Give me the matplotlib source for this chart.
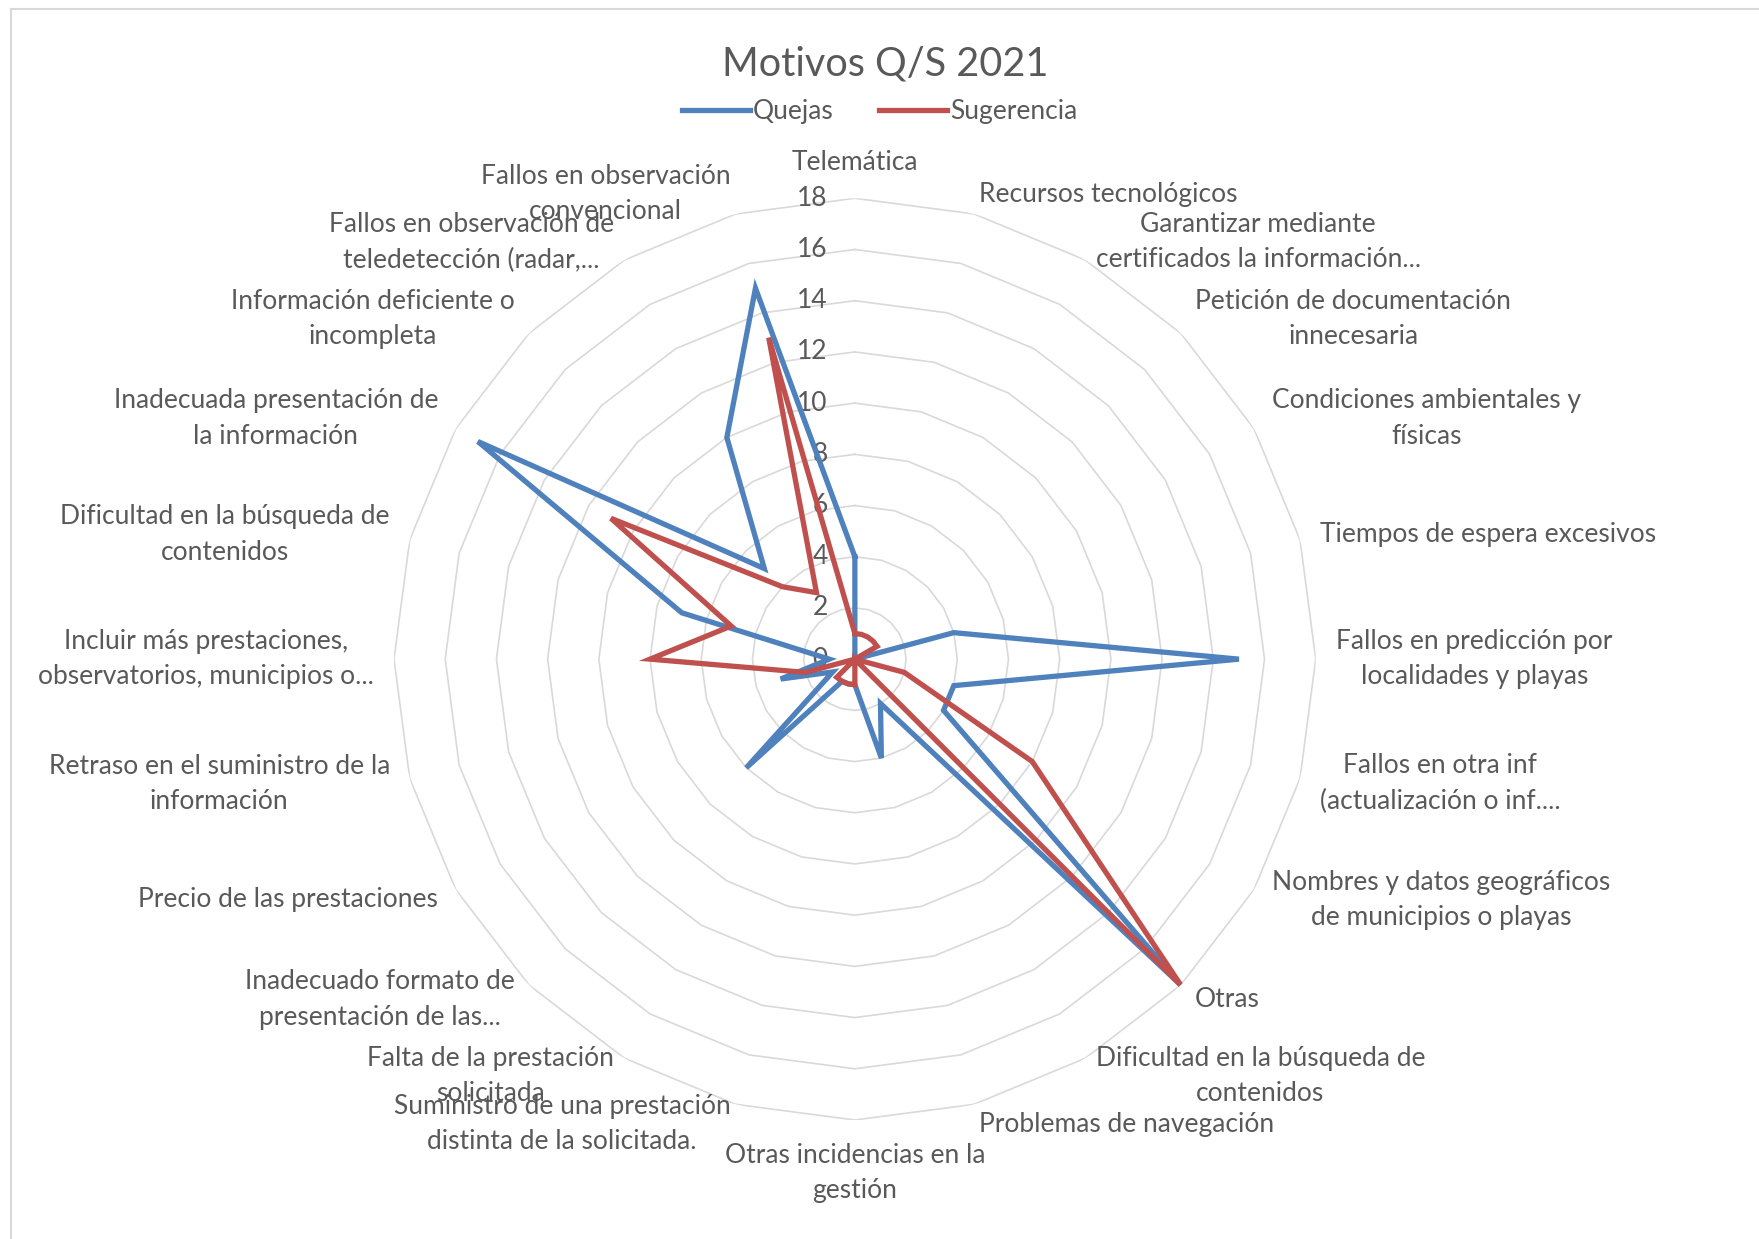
import numpy as np
import matplotlib.pyplot as plt

plt.rcParams['font.family'] = ['Lato', 'DejaVu Sans']

# categorías (en el sentido de las agujas del reloj, empezando arriba)
categorias = [
    "Telemática",
    "Recursos tecnológicos",
    "Garantizar mediante\ncertificados la información...",
    "Petición de documentación\ninnecesaria",
    "Condiciones ambientales y\nfísicas",
    "Tiempos de espera excesivos",
    "Fallos en predicción por\nlocalidades y playas",
    "Fallos en otra inf\n(actualización o inf....",
    "Nombres y datos geográficos\nde municipios o playas",
    "Otras",
    "Dificultad en la búsqueda de\ncontenidos",
    "Problemas de navegación",
    "Otras incidencias en la\ngestión",
    "Suministro de una prestación\ndistinta de la solicitada.",
    "Falta de la prestación\nsolicitada",
    "Inadecuado formato de\npresentación de las...",
    "Precio de las prestaciones",
    "Retraso en el suministro de la\ninformación",
    "Incluir más prestaciones,\nobservatorios, municipios o...",
    "Dificultad en la búsqueda de\ncontenidos",
    "Inadecuada presentación de\nla información",
    "Información deficiente o\nincompleta",
    "Fallos en observación de\nteledetección (radar,...",
    "Fallos en observación\nconvencional",
]

quejas = [4, 0, 0, 0, 0, 4, 15, 4, 4, 18, 2, 4, 1, 1, 1, 6, 1, 3, 1, 7, 17, 5, 10, 15]
sugerencia = [1, 1, 1, 1, 1, 0, 0, 2, 8, 18, 0, 0, 1, 1, 1, 1, 0, 2, 8, 5, 11, 4, 3, 13]

ticks = [0, 2, 4, 6, 8, 10, 12, 14, 16, 18]

gris = '#595959'
azul = '#4F81BD'
rojo = '#C0504D'
fs = 19

n = len(categorias)
ang = np.linspace(0, 2*np.pi, n, endpoint=False)
ang_c = np.append(ang, ang[0])

fig = plt.figure(figsize=(17.59, 12.39), dpi=100)
ax = fig.add_axes([0.224, 0.096, 0.524, 0.744], projection='polar')
ax.set_theta_zero_location('N')
ax.set_theta_direction(-1)
ax.set_ylim(0, 18)
ax.grid(False)
ax.spines['polar'].set_visible(False)
ax.set_xticks([])
ax.set_yticks([])
ax.patch.set_alpha(0)

# rejilla poligonal
for r in ticks[1:]:
    ax.plot(ang_c, [r]*(n+1), color='#d9d9d9', lw=1.2, zorder=1)

# etiquetas del eje radial
for t in ticks:
    ax.annotate(str(t), xy=(0, t), xytext=(-27, 0), textcoords='offset pixels',
                ha='right', va='center', fontsize=fs, color=gris, zorder=2)

# series
ax.plot(ang_c, quejas + quejas[:1], color=azul, lw=3.8, label='Quejas', zorder=3,
        solid_joinstyle='miter')
ax.plot(ang_c, sugerencia + sugerencia[:1], color=rojo, lw=3.8, label='Sugerencia', zorder=4,
        solid_joinstyle='miter')

# etiquetas de categorías
for a, c in zip(ang, categorias):
    grados = np.degrees(a)
    if np.isclose(grados, 0):
        ha, va, r = 'center', 'bottom', 18.9
    elif np.isclose(grados, 180):
        ha, va, r = 'center', 'top', 18.9
    elif grados < 180:
        ha, va, r = 'left', 'center', 18.8
    else:
        ha, va, r = 'right', 'center', 18.8
    ax.text(a, r, c, ha=ha, va=va, fontsize=fs, color=gris,
            multialignment='center', linespacing=1.52)

fig.text(0.503, 0.948, 'Motivos Q/S 2021', ha='center', va='center', fontsize=28.5, color=gris)
fig.legend(loc='center', bbox_to_anchor=(0.50, 0.91), ncol=2, frameon=False,
           fontsize=fs, handlelength=2.6, columnspacing=1.7, handletextpad=0.1,
           labelcolor=gris)

# borde del área del gráfico
fig.add_artist(plt.Line2D([0.006, 0.006], [0.0, 0.993], color='#d9d9d9', lw=1.5))
fig.add_artist(plt.Line2D([0.006, 1.0], [0.993, 0.993], color='#d9d9d9', lw=1.5))

fig.savefig('out.png', dpi=100)
